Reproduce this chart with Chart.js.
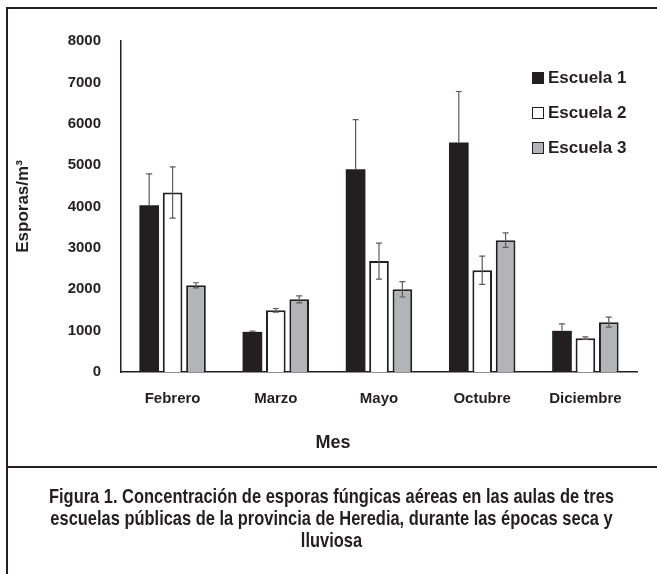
<!DOCTYPE html>
<html>
<head>
<meta charset="utf-8">
<script src="https://cdn.jsdelivr.net/npm/chart.js@4.4.1/dist/chart.umd.min.js"></script>
<style>
  html, body { margin: 0; padding: 0; background: #fff; }
  #page { position: relative; width: 657px; height: 574px; overflow: hidden; font-family: "Liberation Sans", Arial, sans-serif; color: #231f20; }
  #chartBox { position: absolute; left: 0; top: 0; width: 657px; height: 467px; }
  .line { position: absolute; background: #231f20; }
  #legend { position: absolute; left: 532px; top: 60px; }
  .item { display: flex; align-items: center; height: 35px; font-weight: bold; font-size: 17px; }
  .sw { width: 10px; height: 10px; border: 1.5px solid #231f20; margin-right: 4px; }
  #mes { position: absolute; left: 300px; width: 66px; top: 432px; text-align: center; font-weight: bold; font-size: 18px; }
  #caption { position: absolute; left: 6px; width: 651px; top: 485px; font-family: "Liberation Sans", Arial, sans-serif; font-weight: bold; font-size: 21px; line-height: 22px; color: #231f20; }
  #caption div { display: flex; justify-content: center; white-space: nowrap; transform-origin: 50% 50%; }
</style>
</head>
<body>
<div id="page">
  <div id="chartBox"><canvas id="sporeChart"></canvas></div>
  <div class="line" style="left:6px; top:7px; width:651px; height:2px;"></div>
  <div class="line" style="left:6px; top:7px; width:2px; height:567px;"></div>
  <div class="line" style="left:6px; top:466px; width:651px; height:2px;"></div>
  <div id="legend"></div>
  <div id="mes">Mes</div>
  <div id="caption">
    <div><span>Figura 1. Concentración de esporas fúngicas aéreas en las aulas de tres</span></div>
    <div><span>escuelas públicas de la provincia de Heredia, durante las épocas seca y</span></div>
    <div><span>lluviosa</span></div>
  </div>
</div>
<script>
// datos
const meses = ['Febrero', 'Marzo', 'Mayo', 'Octubre', 'Diciembre'];
const escuela1 = [4030, 970, 4900, 5545, 995];
const escuela2 = [4340, 1490, 2680, 2460, 818];
const escuela3 = [2095, 1757, 1998, 3186, 1204];
const error1 = [760, 20, 1200, 1235, 168];
const error2 = [620, 45, 435, 340, 33];
const error3 = [62, 85, 185, 176, 120];
const yTicks = [0, 1000, 2000, 3000, 4000, 5000, 6000, 7000, 8000];

const oscuro = '#231f20';
const colores = ['#231f20', '#ffffff', '#b2b4b7'];
const nombres = ['Escuela 1', 'Escuela 2', 'Escuela 3'];

// barras de error (Escuela 1 solo hacia arriba)
const errorBars = {
  id: 'errorBars',
  afterDatasetsDraw(chart) {
    const ctx = chart.ctx;
    const y = chart.scales.y;
    chart.data.datasets.forEach((ds, i) => {
      const meta = chart.getDatasetMeta(i);
      meta.data.forEach((bar, j) => {
        const v = ds.data[j];
        const e = ds.errors[j];
        const top = y.getPixelForValue(v + e);
        const bot = ds.soloArriba ? y.getPixelForValue(v) : y.getPixelForValue(v - e);
        ctx.save();
        ctx.strokeStyle = '#5b5b5d';
        ctx.lineWidth = 1.2;
        ctx.beginPath();
        ctx.moveTo(bar.x, top);
        ctx.lineTo(bar.x, bot);
        ctx.moveTo(bar.x - 3, top);
        ctx.lineTo(bar.x + 3, top);
        if (!ds.soloArriba) {
          ctx.moveTo(bar.x - 3, bot);
          ctx.lineTo(bar.x + 3, bot);
        }
        ctx.stroke();
        ctx.restore();
      });
    });
  }
};

const ctx = document.getElementById('sporeChart').getContext('2d');
const chart = new Chart(ctx, {
  type: 'bar',
  data: {
    labels: meses,
    datasets: [
      { label: nombres[0], data: escuela1, errors: error1, soloArriba: true,
        backgroundColor: colores[0], borderColor: oscuro, borderWidth: 0 },
      { label: nombres[1], data: escuela2, errors: error2,
        backgroundColor: colores[1], borderColor: oscuro, borderWidth: 2 },
      { label: nombres[2], data: escuela3, errors: error3,
        backgroundColor: colores[2], borderColor: oscuro, borderWidth: 2 }
    ]
  },
  options: {
    responsive: true,
    maintainAspectRatio: false,
    animation: false,
    layout: { padding: { left: 10, right: 20, top: 41, bottom: 0 } },
    datasets: { bar: { categoryPercentage: 0.68, barPercentage: 0.84 } },
    plugins: { legend: { display: false }, tooltip: { enabled: false } },
    scales: {
      x: {
        grid: { display: false },
        border: { display: true, color: oscuro, width: 1.5 },
        ticks: { color: oscuro, padding: 10, font: { family: 'Liberation Sans', size: 15, weight: 'bold' } },
        afterFit(s) { s.height = 95; }
      },
      y: {
        min: 0,
        max: 8000,
        afterBuildTicks(s) { s.ticks = yTicks.map(v => ({ value: v })); },
        grid: { display: false },
        border: { display: true, color: oscuro, width: 1.5 },
        ticks: { color: oscuro, padding: 12, callback: v => String(v),
                 font: { family: 'Liberation Sans', size: 15, weight: 'bold' } },
        title: { display: true, text: 'Esporas/m³', color: oscuro, padding: { top: 3, bottom: 0 },
                 font: { family: 'Liberation Sans', size: 17, weight: 'bold' } },
        afterFit(s) { s.width = 111; }
      }
    }
  },
  plugins: [errorBars]
});

// leyenda
const leg = document.getElementById('legend');
nombres.forEach((n, i) => {
  const it = document.createElement('div');
  it.className = 'item';
  it.innerHTML = '<span class="sw" style="background:' + colores[i] + '"></span>' + n;
  leg.appendChild(it);
});

// pie de figura en letra estrecha: se comprime la primera línea a ~565px
const lineas = document.querySelectorAll('#caption div');
const ancho = lineas[0].querySelector('span').getBoundingClientRect().width;
const k = 565 / ancho;
lineas.forEach(d => { d.style.transform = 'scaleX(' + k + ')'; });
</script>
</body>
</html>
